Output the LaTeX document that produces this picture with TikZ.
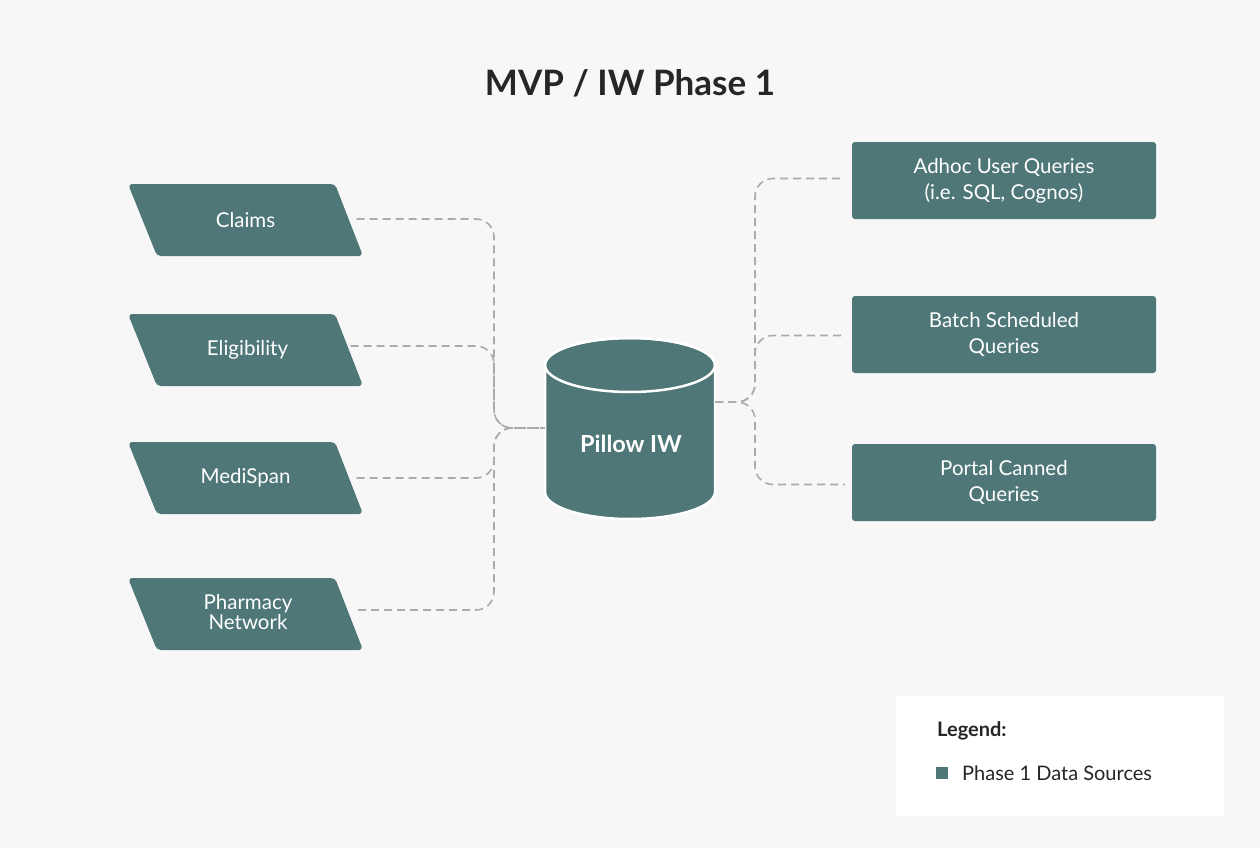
\documentclass[tikz,border=0pt]{standalone}
\usepackage{fontspec}
\setmainfont{Lato}
\definecolor{tealc}{HTML}{4F7778}
\definecolor{bgc}{HTML}{F7F7F7}
\definecolor{dashc}{HTML}{ABABAB}
\definecolor{txtc}{HTML}{262626}
\begin{document}
\begin{tikzpicture}[x=1pt,y=1pt,
  parafill/.style={fill=tealc, rounded corners=4pt},
  srcbox/.style={rectangle, minimum width=206pt, minimum height=72pt, inner sep=0pt,
    text=white, font=\fontsize{20.5}{20}\selectfont, align=center},
  dstbox/.style={rectangle, fill=tealc, rounded corners=3pt,
    minimum width=304pt, minimum height=77pt, inner sep=0pt,
    text=white, font=\fontsize{20.5}{26}\selectfont, align=center},
  dbnode/.style={rectangle, minimum width=170pt, minimum height=182pt, inner sep=0pt},
  conn/.style={draw=dashc, line width=1.6pt, dash pattern=on 8pt off 5pt, rounded corners=18pt},
  legtext/.style={text=txtc, font=\fontsize{20}{22}\selectfont, inner sep=0pt, anchor=west}
]
\useasboundingbox[fill=bgc] (0,0) rectangle (1260,-848);

% title
\node[text=txtc, font=\bfseries\fontsize{35}{40}\selectfont] (title) at (630,-83) {MVP / IW Phase 1};

% source parallelograms
\foreach \yc in {220,350,478,614}{
  \fill[parafill] (128,-\yc+36) -- (335,-\yc+36) -- (363,-\yc-36) -- (157,-\yc-36) -- cycle;
}
\node[srcbox] (claims) at (245.5,-220) {Claims};
\node[srcbox] (elig) at (247.5,-350) {Eligibility};
\node[srcbox] (medi) at (245.5,-478) {MediSpan};
\node[srcbox] (pharm) at (248,-612) {Pharmacy\\Network};

% cylinder
\fill[tealc, draw=white, line width=2.5pt]
  (545,-365) -- (545,-492) arc[start angle=180, end angle=360, x radius=85, y radius=27]
  -- (715,-365) arc[start angle=0, end angle=180, x radius=85, y radius=27] -- cycle;
\draw[white, line width=2.5pt] (630,-365) ellipse[x radius=85, y radius=27];
\node[dbnode] (db) at (630,-428) {};
\node[text=white, font=\bfseries\fontsize{23.5}{26}\selectfont] (dblabel) at (631,-444) {Pillow IW};

% destinations
\node[dstbox] (adhoc) at (1004,-180.5) {Adhoc User Queries\\(i.e. SQL, Cognos)};
\node[dstbox] (batch) at (1004,-334.5) {Batch Scheduled\\Queries};
\node[dstbox] (portal) at (1004,-482.5) {Portal Canned\\Queries};

% junction coordinates
\coordinate (lx) at (494,-428);
\coordinate (rx) at (755,-402);

% left connectors
\draw[conn] ([xshift=8pt,yshift=1pt]claims.east) -- ([yshift=1pt]claims.east -| lx) -- (lx) -- (db.west);
\draw[conn] ([xshift=0pt,yshift=4pt]elig.east) -- ([yshift=4pt]elig.east -| lx) -- (lx) -- (db.west);
\draw[conn] ([xshift=8pt]medi.east) -- (medi.east -| lx) -- (lx) -- (db.west);
\draw[conn] ([xshift=7pt,yshift=2pt]pharm.east) -- ([yshift=2pt]pharm.east -| lx) -- (lx) -- (db.west);

% right connectors
\draw[conn] ([yshift=26pt]db.east) -- (rx) -- ([yshift=2pt]rx |- adhoc.west) -- ([xshift=-7pt,yshift=2pt]adhoc.west);
\draw[conn] ([yshift=26pt]db.east) -- (rx) -- ([yshift=-1pt]rx |- batch.west) -- ([xshift=-7pt,yshift=-1pt]batch.west);
\draw[conn] ([yshift=26pt]db.east) -- (rx) -- ([yshift=-2pt]rx |- portal.west) -- ([xshift=-7pt,yshift=-2pt]portal.west);

% legend
\node[rectangle, fill=white, minimum width=328pt, minimum height=120pt, inner sep=0pt] (legbox) at (1060,-756) {};
\node[legtext, font=\bfseries\fontsize{20}{22}\selectfont] (legtitle) at (937,-731) {Legend:};
\node[rectangle, fill=tealc, minimum size=12pt, inner sep=0pt] (legsq) at (942,-773) {};
\node[legtext] (legitem) at (962,-773) {Phase 1 Data Sources};
\end{tikzpicture}
\end{document}
